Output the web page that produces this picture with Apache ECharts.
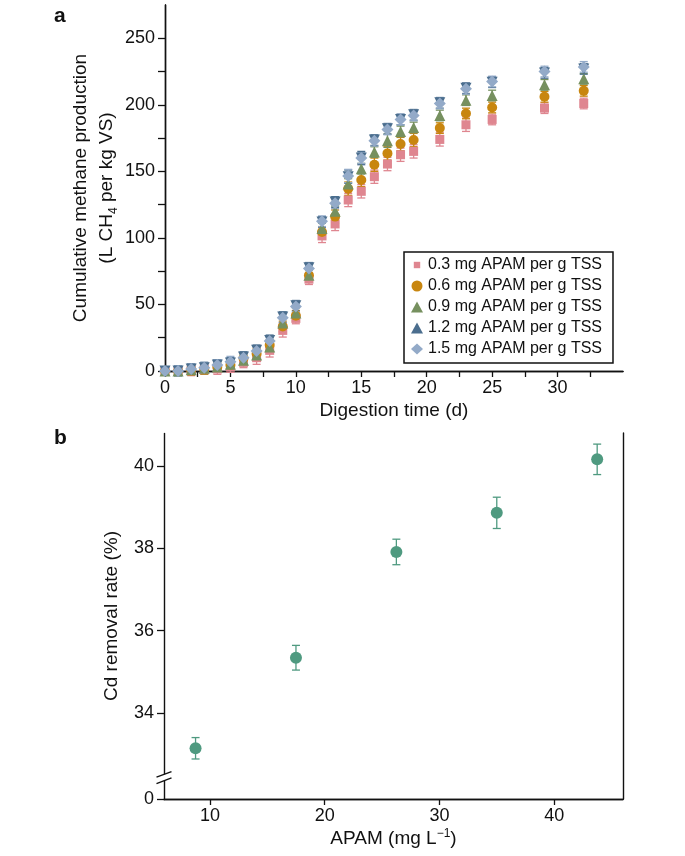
<!DOCTYPE html>
<html><head><meta charset="utf-8">
<script src="https://cdn.jsdelivr.net/npm/echarts@6.0.0/dist/echarts.min.js"></script>
<style>html,body{margin:0;padding:0;background:#fff}#c{width:685px;height:856px}</style>
</head><body><div id="c"></div>
<script>
// ---------- Panel a data ----------
const days = [0, 1, 2, 3, 4, 5, 6, 7, 8, 9, 10, 11, 12, 13, 14, 15, 16, 17, 18, 19, 21, 23, 25, 29, 32];
const seriesNames = ['0.3 mg APAM per g TSS', '0.6 mg APAM per g TSS', '0.9 mg APAM per g TSS', '1.2 mg APAM per g TSS', '1.5 mg APAM per g TSS'];
const apam03 = [0, 0, 0.5, 1, 1.5, 3, 6.5, 10, 15.5, 30.5, 39.5, 69, 101.5, 110.5, 128.5, 135, 146, 155.5, 162.5, 165, 174, 185, 189, 197.5, 201];
const apam06 = [0, 0, 1, 1.5, 3, 4.5, 9.5, 13, 19.5, 33.5, 41.5, 72, 104.5, 116, 137, 143.5, 155, 163.5, 170.5, 173.5, 182.5, 193.5, 198, 206, 210.5];
const apam09 = [0, 0, 1, 2, 3, 5, 8, 12, 18, 36, 43.5, 72, 107, 120, 140.5, 152, 164.5, 173, 180, 183, 192, 203.5, 207, 215, 219.5];
const apam12 = [0, 0, 1.5, 2.5, 4.5, 6, 10.5, 15.5, 23, 40.5, 49, 77.5, 112, 127, 146, 160, 173.5, 182, 189, 192.5, 201.5, 212.5, 217, 224, 227];
const apam15 = [0, 0, 1.5, 2.5, 4.5, 7, 10, 15, 22.5, 40, 48.5, 77, 112.5, 126, 146.5, 160, 173, 181.5, 189, 192, 201, 212, 217.5, 225, 228.5];
const err03 = [3, 3, 4, 3, 4, 4, 4, 5, 5, 5, 4, 4, 5, 5, 5, 5, 5, 5, 5, 5, 5, 5, 4, 4, 4];
const err06 = [3, 3, 4, 4, 4, 4, 4, 4, 4, 4, 4, 4, 4, 5, 5, 5, 5, 5, 5, 5, 4, 4, 4, 4, 4];
const err09 = [3, 3, 3, 4, 4, 4, 4, 4, 4, 4, 4, 4, 4, 4, 4, 4, 4, 5, 4, 4, 4, 4, 4, 4, 4];
const err12 = [3, 4, 4, 4, 4, 4, 4, 4, 4, 4, 4, 4, 4, 4, 5, 5, 4, 4, 4, 4, 4, 4, 4, 4, 4];
const err15 = [3, 4, 4, 4, 4, 4, 4, 4, 4, 4, 4, 4, 4, 4, 5, 4, 4, 4, 4, 4, 4, 4, 4, 4, 4];
const xTicksA = [0, 2.5, 5, 7.5, 10, 12.5, 15, 17.5, 20, 22.5, 25, 27.5, 30, 32.5];
const xLabelsA = [0, 5, 10, 15, 20, 25, 30];
const yTicksA = [0, 25, 50, 75, 100, 125, 150, 175, 200, 225, 250];
const yLabelsA = [0, 50, 100, 150, 200, 250];

// ---------- Panel b data ----------
const apamConc = [8.75, 17.5, 26.25, 35, 43.75];
const cdRemoval = [33.14, 35.34, 37.91, 38.86, 40.16];
const cdErr = [0.26, 0.30, 0.31, 0.38, 0.37];
const xLabelsB = [10, 20, 30, 40];
const yLabelsB = [0, 34, 36, 38, 40];
const yBreakB = { start: 0.45, end: 32.5 };

const FONT = "'Liberation Sans', Arial, Helvetica, sans-serif";
const INK = '#111';
const colors = ['#df8690', '#c8860f', '#76905f', '#4b6e8e', '#93aac8'];
const symbols = ['rect', 'circle', 'triangle', 'triangle', 'diamond'];
const symRot = [0, 0, 0, 180, 0];
const symSizes = [9, 10, 11, 11, 12];
const valuesA = [apam03, apam06, apam09, apam12, apam15];
const errsA = [err03, err06, err09, err12, err15];

const chart = echarts.init(document.getElementById('c'), null, { renderer: 'canvas' });

function errRender(color, capW) {
  return function (params, api) {
    const x = api.value(0), y = api.value(1), e = api.value(2);
    const p0 = api.coord([x, y - e]);
    const p1 = api.coord([x, y + e]);
    const w = capW / 2;
    const st = { stroke: color, lineWidth: 1.3 };
    return {
      type: 'group',
      children: [
        { type: 'line', shape: { x1: p0[0], y1: p0[1], x2: p1[0], y2: p1[1] }, style: st },
        { type: 'line', shape: { x1: p0[0] - w, y1: p0[1], x2: p0[0] + w, y2: p0[1] }, style: st },
        { type: 'line', shape: { x1: p1[0] - w, y1: p1[1], x2: p1[0] + w, y2: p1[1] }, style: st }
      ]
    };
  };
}

const axisLineStyle = { show: true, lineStyle: { color: INK, width: 1.4 } };
const labelStyle = { fontFamily: FONT, fontSize: 18, color: INK };
const frameAxis = (gridIndex, position, extra) => Object.assign({
  gridIndex, position, type: 'value',
  axisLine: axisLineStyle, axisTick: { show: false }, axisLabel: { show: false }, splitLine: { show: false }
}, extra);

const series = [];
for (let i = 0; i < 5; i++) {
  series.push({
    type: 'custom', name: 'err' + i, xAxisIndex: 0, yAxisIndex: 0,
    renderItem: errRender(colors[i], 8),
    data: days.map((d, k) => [d, valuesA[i][k], errsA[i][k]]),
    encode: { x: 0, y: 1 }, silent: true, z: 2
  });
  series.push({
    type: 'scatter', name: seriesNames[i], xAxisIndex: 0, yAxisIndex: 0,
    symbol: symbols[i], symbolRotate: symRot[i], symbolSize: symSizes[i],
    itemStyle: { color: colors[i], opacity: 1 },
    data: days.map((d, k) => [d, valuesA[i][k]]), z: 2
  });
}
series.push({
  type: 'custom', name: 'cdErr', xAxisIndex: 2, yAxisIndex: 2,
  renderItem: errRender('#4f9a80', 8),
  data: apamConc.map((x, k) => [x, cdRemoval[k], cdErr[k]]),
  encode: { x: 0, y: 1 }, silent: true, z: 2
});
series.push({
  type: 'scatter', name: 'Cd', xAxisIndex: 2, yAxisIndex: 2,
  symbol: 'circle', symbolSize: 12, itemStyle: { color: '#4f9a80', opacity: 1 },
  data: apamConc.map((x, k) => [x, cdRemoval[k]]), z: 3
});

const legendData = seriesNames.map((n, i) => i === 0
  ? { name: n, icon: 'path://M0,0M12,12M2.5,2.5h7v7h-7z' }
  : { name: n });

const option = {
  animation: false,
  backgroundColor: '#fff',
  textStyle: { fontFamily: FONT },
  title: [
    { text: 'a', left: 49, top: 1, textStyle: { fontFamily: FONT, fontSize: 21, fontWeight: 'bold', color: INK } },
    { text: 'b', left: 49, top: 423, textStyle: { fontFamily: FONT, fontSize: 21, fontWeight: 'bold', color: INK } }
  ],
  grid: [
    { left: 165, right: 62, top: 5, height: 366 },
    { left: 164, right: 62, top: 433, height: 366 }
  ],
  legend: {
    data: legendData,
    orient: 'vertical', left: 404, top: 252,
    itemWidth: 12, itemHeight: 11, itemGap: 5,
    padding: [5, 11, 6, 7],
    borderColor: INK, borderWidth: 1.5,
    textStyle: { fontFamily: FONT, fontSize: 16, color: INK }
  },
  xAxis: [
    {
      gridIndex: 0, type: 'value', min: 0, max: 35, position: 'bottom',
      name: 'Digestion time (d)', nameLocation: 'middle', nameGap: 30, nameMoveOverlap: false,
      nameTextStyle: { fontFamily: FONT, fontSize: 19, color: INK },
      axisLine: axisLineStyle,
      axisTick: { show: true, length: 6, lineStyle: { color: INK, width: 1.3 }, customValues: xTicksA },
      axisLabel: Object.assign({ margin: 8, customValues: xLabelsA }, labelStyle),
      splitLine: { show: false }
    },
    frameAxis(0, 'top', { min: 0, max: 35 }),
    {
      gridIndex: 1, type: 'value', min: 6, max: 46, position: 'bottom',
      name: '{t|APAM (mg L}{s|\u22121}{t|)}', nameLocation: 'middle', nameGap: 29, nameMoveOverlap: false,
      nameTextStyle: {
        rich: {
          t: { fontFamily: FONT, fontSize: 19, color: INK, lineHeight: 22 },
          s: { fontFamily: FONT, fontSize: 12, color: INK, lineHeight: 12, verticalAlign: 'top' }
        }
      },
      axisLine: axisLineStyle,
      axisTick: { show: true, length: 6, lineStyle: { color: INK, width: 1.3 }, customValues: xLabelsB },
      axisLabel: Object.assign({ margin: 8, customValues: xLabelsB }, labelStyle),
      splitLine: { show: false }
    },
    frameAxis(1, 'top', { min: 6, max: 46 })
  ],
  yAxis: [
    {
      gridIndex: 0, type: 'value', min: 0, max: 275, position: 'left',
      name: '{t|Cumulative methane production}\n{t|(L CH}{s|4}{t| per kg VS)}',
      nameLocation: 'middle', nameGap: 45, nameMoveOverlap: false,
      nameTextStyle: {
        rich: {
          t: { fontFamily: FONT, fontSize: 19, color: INK, lineHeight: 26 },
          s: { fontFamily: FONT, fontSize: 12, color: INK, lineHeight: 12, verticalAlign: 'bottom' }
        }
      },
      axisLine: axisLineStyle,
      axisTick: { show: true, length: 7, lineStyle: { color: INK, width: 1.3 }, customValues: yTicksA },
      axisLabel: Object.assign({ margin: 10, customValues: yLabelsA }, labelStyle),
      splitLine: { show: false }
    },
    frameAxis(0, 'right', { min: 0, max: 275 }),
    {
      gridIndex: 1, type: 'value', min: 0, max: 40.8, position: 'left',
      name: 'Cd removal rate (%)', nameLocation: 'middle', nameGap: 39, nameMoveOverlap: false,
      nameTextStyle: { fontFamily: FONT, fontSize: 19, color: INK, lineHeight: 26 },
      breaks: [{ start: yBreakB.start, end: yBreakB.end, gap: '1.6%' }],
      breakArea: { show: false },
      axisLine: axisLineStyle,
      axisTick: { show: true, length: 7, lineStyle: { color: INK, width: 1.3 }, customValues: yLabelsB },
      axisLabel: Object.assign({ margin: 10, customValues: yLabelsB }, labelStyle),
      splitLine: { show: false }
    },
    frameAxis(1, 'right', { min: 0, max: 40.8 })
  ],
  series
};
chart.setOption(option);

// axis-break glyph (two parallel slashes) on the Cd y-axis
const xb = chart.convertToPixel({ xAxisIndex: 2 }, 6);
const yLo = chart.convertToPixel({ yAxisIndex: 2 }, yBreakB.start);
const yHi = chart.convertToPixel({ yAxisIndex: 2 }, yBreakB.end);
if (isFinite(xb) && isFinite(yLo) && isFinite(yHi)) {
  const yMid = (yLo + yHi) / 2;
  const half = 3.2;
  const st = { stroke: INK, lineWidth: 1.4 };
  chart.setOption({
    graphic: [
      { type: 'rect', shape: { x: xb - 3, y: yMid - half, width: 6, height: half * 2 }, style: { fill: '#fff' }, z: 100 },
      { type: 'line', shape: { x1: xb - 7.5, y1: yMid + half + 2.8, x2: xb + 7.5, y2: yMid + half - 2.8 }, style: st, z: 101 },
      { type: 'line', shape: { x1: xb - 7.5, y1: yMid - half + 2.8, x2: xb + 7.5, y2: yMid - half - 2.8 }, style: st, z: 101 }
    ]
  });
}
</script>
</body></html>
